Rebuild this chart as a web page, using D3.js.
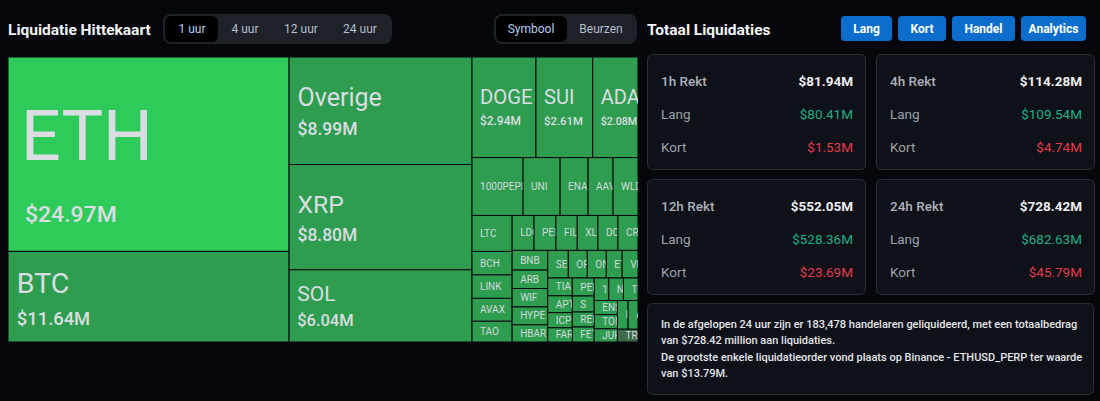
<!DOCTYPE html>
<html>
<head>
<meta charset="utf-8">
<script src="https://cdn.jsdelivr.net/npm/d3@7"></script>
<style>
  body { margin: 0; background: #05070c; }
  svg { display: block; font-family: Roboto, "Noto Sans", sans-serif; }
</style>
</head>
<body>
<svg id="chart" width="1100" height="401"></svg>
<script>
// treemap data (1 uur), in the order the heatmap shows them
const coins = ["ETH", "BTC", "Overige", "XRP", "SOL", "DOGE", "SUI", "ADA",
  "1000PEPE", "UNI", "ENA", "AAVE", "WLD",
  "LTC", "BCH", "LINK", "AVAX", "TAO",
  "LDO", "PENDLE", "FIL", "XLM", "DOT", "CRV",
  "BNB", "ARB", "WIF", "HYPE", "HBAR",
  "SEI", "OP", "ONDO", "ETC", "VIRTUAL",
  "TIA", "APT", "ICP", "FARTCOIN",
  "PENGU", "S", "RENDER", "FET",
  "1000BONK", "NEAR", "TRUMP",
  "ENS", "TON", "JUP",
  "IP", "ATOM", "TRX"];
const amounts = [24.97, 11.64, 8.99, 8.80, 6.04, 2.94, 2.61, 2.08,
  1.35, 0.98, 0.74, 0.66, 0.66,
  0.66, 0.43, 0.43, 0.42, 0.38,
  0.35, 0.35, 0.34, 0.33, 0.32, 0.32,
  0.32, 0.30, 0.30, 0.29, 0.28,
  0.26, 0.24, 0.24, 0.20, 0.20,
  0.20, 0.19, 0.17, 0.16,
  0.18, 0.16, 0.15, 0.15,
  0.15, 0.15, 0.15,
  0.15, 0.15, 0.14,
  0.14, 0.13, 0.12];
const brightCoins = ["ETH"];
const mutedCoins = ["TRX"];

const timeTabs = ["1 uur", "4 uur", "12 uur", "24 uur"];
const viewTabs = ["Symbool", "Beurzen"];
const actionButtons = ["Lang", "Kort", "Handel", "Analytics"];

const cardTitles = ["1h Rekt", "4h Rekt", "12h Rekt", "24h Rekt"];
const cardTotals = ["$81.94M", "$114.28M", "$552.05M", "$728.42M"];
const cardLongs = ["$80.41M", "$109.54M", "$528.36M", "$682.63M"];
const cardShorts = ["$1.53M", "$4.74M", "$23.69M", "$45.79M"];

const summaryLines = [
  "In de afgelopen 24 uur zijn er 183,478 handelaren geliquideerd, met een totaalbedrag",
  "van $728.42 million aan liquidaties.",
  "De grootste enkele liquidatieorder vond plaats op Binance - ETHUSD_PERP ter waarde",
  "van $13.79M."
];

const svg = d3.select("#chart");

// ---------- header left ----------
svg.append("text")
  .attr("x", 8).attr("y", 35)
  .attr("fill", "#f2f3f5")
  .attr("font-size", "15.5px")
  .attr("font-weight", 700)
  .text("Liquidatie Hittekaart");

function segmented(x, y, w, h, labels, centers, activeW) {
  const g = svg.append("g");
  g.append("rect")
    .attr("x", x).attr("y", y).attr("width", w).attr("height", h)
    .attr("rx", 8).attr("fill", "#1e2128");
  g.append("rect")
    .attr("x", x + 2).attr("y", y + 2).attr("width", activeW).attr("height", h - 4)
    .attr("rx", 6).attr("fill", "#000");
  g.selectAll("text")
    .data(labels)
    .enter()
    .append("text")
    .attr("x", (d, i) => centers[i])
    .attr("y", y + h / 2)
    .attr("dy", "0.35em")
    .attr("text-anchor", "middle")
    .attr("font-size", "12px")
    .attr("fill", (d, i) => i === 0 ? "#b8cdee" : "#b4bfd2")
    .text(d => d);
}
segmented(163, 14, 229, 30, timeTabs, [192, 245, 301, 360], 53);
segmented(494, 14, 143, 30, viewTabs, [531, 601], 71);

// ---------- treemap ----------
const tmX = 8, tmY = 57, tmW = 630, tmH = 285;

const root = d3.hierarchy({
  children: coins.map((c, i) => ({ name: c, value: amounts[i] }))
}).sum(d => d.value || 0);

d3.treemap()
  .tile(d3.treemapSquarify)
  .size([tmW, tmH])
  .round(false)(root);

const defs = svg.append("defs");
defs.append("clipPath").attr("id", "tm-clip")
  .append("rect").attr("x", tmX).attr("y", tmY).attr("width", tmW).attr("height", tmH);

const tm = svg.append("g")
  .attr("clip-path", "url(#tm-clip)")
  .append("g")
  .attr("transform", "translate(" + tmX + "," + tmY + ")");

const nameFont = d3.scaleLinear().domain([2, 6, 12, 25]).range([20, 21, 29, 70]).clamp(true);
const valueFont = d3.scaleLinear().domain([2, 6, 12, 25]).range([10.5, 16.5, 18.5, 23]).clamp(true);

const leaves = root.leaves();

leaves.forEach(function(d, i) {
  defs.append("clipPath").attr("id", "cell-" + i)
    .append("rect")
    .attr("x", d.x0).attr("y", d.y0)
    .attr("width", d.x1 - d.x0).attr("height", d.y1 - d.y0);
});

const cell = tm.selectAll("g.cell")
  .data(leaves)
  .enter()
  .append("g")
  .attr("class", "cell");

cell.append("rect")
  .attr("x", d => d.x0)
  .attr("y", d => d.y0)
  .attr("width", d => d.x1 - d.x0)
  .attr("height", d => d.y1 - d.y0)
  .attr("fill", function(d) {
    if (brightCoins.includes(d.data.name)) return "#2fcb5a";
    if (mutedCoins.includes(d.data.name)) return "#3d6b4b";
    return "#2e9d4f";
  })
  .attr("stroke", "#05070c")
  .attr("stroke-width", 1);

const labels = cell.append("g")
  .attr("clip-path", (d, i) => "url(#cell-" + i + ")");

labels.each(function(d) {
  const g = d3.select(this);
  const cy = (d.y0 + d.y1) / 2;
  if (d.value >= 2) {
    const n = nameFont(d.value), v = valueFont(d.value);
    const total = 0.71 * n + 0.65 * n + 0.71 * v;
    const shift = 0.24 * Math.max(0, n - 20);
    const pad = 6 + n * 0.1;
    g.append("text")
      .attr("x", d.x0 + pad)
      .attr("y", cy - total / 2 + 0.71 * n + shift)
      .attr("font-size", n + "px")
      .attr("fill", "#dadde2")
      .text(d.data.name);
    g.append("text")
      .attr("x", d.x0 + pad + (n > 40 ? 4 : 0))
      .attr("y", cy + total / 2 + shift)
      .attr("font-size", v + "px")
      .attr("font-weight", 500)
      .attr("fill", "#dadde2")
      .text("$" + d3.format(".2f")(d.value) + "M");
  } else {
    g.append("text")
      .attr("x", d.x0 + 8)
      .attr("y", cy)
      .attr("dy", "0.35em")
      .attr("font-size", "10px")
      .attr("fill", "#d4d9de")
      .text(d.data.name);
  }
});

// ---------- right panel ----------
svg.append("text")
  .attr("x", 647).attr("y", 35)
  .attr("fill", "#f2f3f5")
  .attr("font-size", "15.5px")
  .attr("font-weight", 700)
  .text("Totaal Liquidaties");

const btnX = [841, 898, 952, 1021];
const btnW = [51, 48, 63, 65];
const btn = svg.selectAll("g.btn")
  .data(actionButtons)
  .enter()
  .append("g")
  .attr("class", "btn");
btn.append("rect")
  .attr("x", (d, i) => btnX[i]).attr("y", 16)
  .attr("width", (d, i) => btnW[i]).attr("height", 25)
  .attr("rx", 4)
  .attr("fill", "#0d6dcc");
btn.append("text")
  .attr("x", (d, i) => btnX[i] + btnW[i] / 2)
  .attr("y", 28.5)
  .attr("dy", "0.35em")
  .attr("text-anchor", "middle")
  .attr("font-size", "12px")
  .attr("font-weight", 700)
  .attr("fill", "#fff")
  .text(d => d);

const cardX = [647, 876, 647, 876];
const cardY = [54, 54, 179, 179];
const cardW = 219, cardH = 116;

const card = svg.selectAll("g.card")
  .data(cardTitles)
  .enter()
  .append("g")
  .attr("class", "card")
  .attr("transform", (d, i) => "translate(" + cardX[i] + "," + cardY[i] + ")");

card.append("rect")
  .attr("x", 0.5).attr("y", 0.5)
  .attr("width", cardW - 1).attr("height", cardH - 1)
  .attr("rx", 5)
  .attr("fill", "#0e1118")
  .attr("stroke", "#2a2e36");

const rowY = [32, 65, 98];
card.append("text")
  .attr("x", 14).attr("y", rowY[0])
  .attr("font-size", "13.5px").attr("font-weight", 500)
  .attr("fill", "#acb0b8")
  .text(d => d);
card.append("text")
  .attr("x", cardW - 13).attr("y", rowY[0])
  .attr("text-anchor", "end")
  .attr("font-size", "13.5px").attr("font-weight", 700)
  .attr("fill", "#eceef1")
  .text((d, i) => cardTotals[i]);
card.append("text")
  .attr("x", 14).attr("y", rowY[1])
  .attr("font-size", "13.5px")
  .attr("fill", "#9da2aa")
  .text("Lang");
card.append("text")
  .attr("x", cardW - 13).attr("y", rowY[1])
  .attr("text-anchor", "end")
  .attr("font-size", "13.5px")
  .attr("fill", "#1fae85")
  .text((d, i) => cardLongs[i]);
card.append("text")
  .attr("x", 14).attr("y", rowY[2])
  .attr("font-size", "13.5px")
  .attr("fill", "#9da2aa")
  .text("Kort");
card.append("text")
  .attr("x", cardW - 13).attr("y", rowY[2])
  .attr("text-anchor", "end")
  .attr("font-size", "13.5px")
  .attr("fill", "#e33a4b")
  .text((d, i) => cardShorts[i]);

// summary box
svg.append("rect")
  .attr("x", 647.5).attr("y", 303.5)
  .attr("width", 446).attr("height", 91)
  .attr("rx", 5)
  .attr("fill", "#0e1118")
  .attr("stroke", "#2a2e36");

svg.selectAll("text.summary")
  .data(summaryLines)
  .enter()
  .append("text")
  .attr("class", "summary")
  .attr("x", 661)
  .attr("y", (d, i) => 328 + i * 16.4)
  .attr("font-size", "11px")
  .attr("font-weight", 500)
  .attr("fill", "#e4e6ea")
  .text(d => d);
</script>
</body>
</html>
